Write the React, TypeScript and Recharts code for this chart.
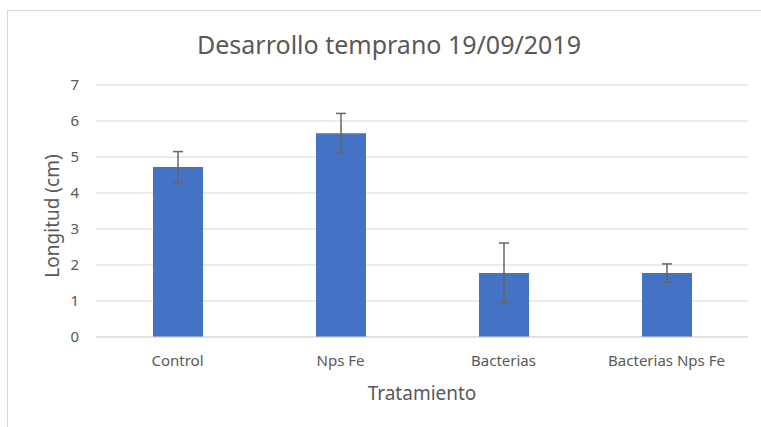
import { BarChart, Bar, XAxis, YAxis, CartesianGrid, ErrorBar } from 'recharts';

const tratamientos = ['Control', 'Nps Fe', 'Bacterias', 'Bacterias Nps Fe'];
const longitud = [4.72, 5.66, 1.78, 1.78];
const errorLongitud = [0.43, 0.55, 0.83, 0.25];
const yTicks = [0, 1, 2, 3, 4, 5, 6, 7];

const data = tratamientos.map((t, i) => ({
  tratamiento: t,
  longitud: longitud[i],
  error: errorLongitud[i],
}));

const FONT = '"Noto Sans", sans-serif';
const TEXT = '#595959';

export default function App() {
  return (
    <div style={{ position: 'absolute', left: 0, top: 0, width: 761, height: 427, background: '#fff', fontFamily: FONT }}>
      {/* chart frame (only top + left edges visible) */}
      <div
        style={{
          position: 'absolute',
          left: 7,
          top: 10,
          width: 760,
          height: 420,
          borderTop: '1px solid #d9d9d9',
          borderLeft: '1px solid #d9d9d9',
        }}
      />
      <div
        style={{
          position: 'absolute',
          left: 0,
          top: 29,
          width: 778,
          textAlign: 'center',
          fontSize: 25,
          color: TEXT,
          lineHeight: '30px',
        }}
      >
        Desarrollo temprano 19/09/2019
      </div>
      <div style={{ position: 'absolute', left: 0, top: 0 }}>
        <BarChart
          width={761}
          height={427}
          data={data}
          margin={{ top: 85, right: 13, bottom: 25, left: 0 }}
          barSize={50}
        >
          <CartesianGrid vertical={false} stroke="#d9d9d9" />
          <XAxis
            dataKey="tratamiento"
            height={65}
            stroke="#d9d9d9"
            tickLine={false}
            tickMargin={12}
            tick={{ fill: TEXT, fontSize: 15, fontFamily: FONT }}
            label={{
              value: 'Tratamiento',
              position: 'insideBottom',
              offset: 2,
              fill: TEXT,
              fontSize: 19,
              fontFamily: FONT,
            }}
          />
          <YAxis
            width={96}
            domain={[0, 7]}
            ticks={yTicks}
            axisLine={false}
            tickLine={false}
            tickMargin={11}
            tick={{ fill: TEXT, fontSize: 15, fontFamily: FONT }}
            label={{
              value: 'Longitud (cm)',
              angle: -90,
              position: 'center',
              dx: 4,
              dy: 5,
              fill: TEXT,
              fontSize: 19,
              fontFamily: FONT,
            }}
          />
          <Bar dataKey="longitud" fill="#4472C4" isAnimationActive={false}>
            <ErrorBar dataKey="error" width={5} stroke="#666666" strokeWidth={1.5} isAnimationActive={false} />
          </Bar>
        </BarChart>
      </div>
    </div>
  );
}
